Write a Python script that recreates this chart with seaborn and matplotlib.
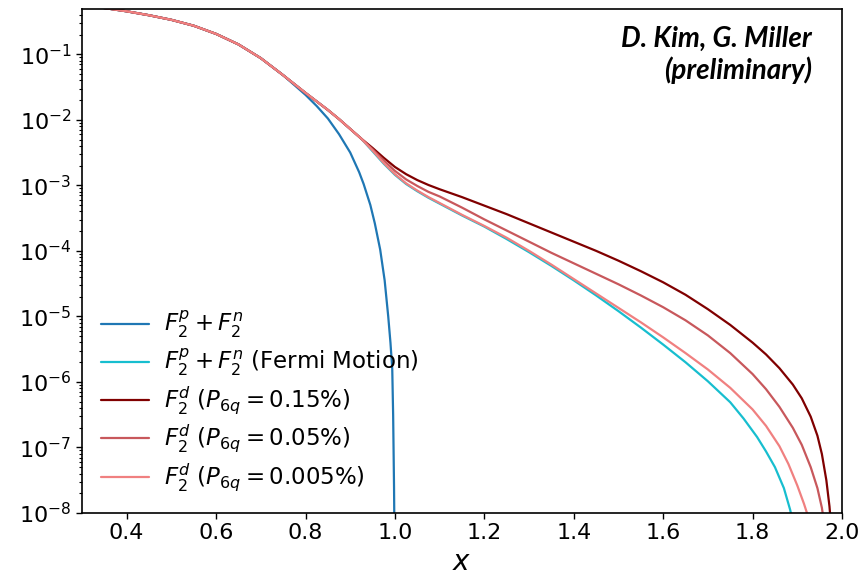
import numpy as np
import pandas as pd
import matplotlib
matplotlib.use("Agg")
import matplotlib.pyplot as plt
import seaborn as sns

# Structure functions, stored as log10(F2) against Bjorken x
x_head = [0.30, 0.35, 0.40, 0.45, 0.50, 0.55, 0.60, 0.65, 0.70, 0.75, 0.80]
log_head = [-0.250, -0.295, -0.345, -0.405, -0.475, -0.565, -0.690, -0.850, -1.060,
            -1.320, -1.590]

# Free nucleon sum F2p + F2n (vanishes at x = 1)
x_free = x_head[:-1] + [0.80, 0.825, 0.85, 0.875, 0.90, 0.92, 0.93, 0.945, 0.955, 0.967,
                        0.977, 0.985, 0.990, 0.994, 0.996, 0.998, 0.999]
log_free = log_head[:-1] + [-1.62, -1.79, -1.98, -2.22, -2.50, -2.80, -2.98, -3.30, -3.58,
                            -3.98, -4.45, -5.00, -5.40, -5.80, -6.50, -7.60, -8.40]

# Region where the smeared and deuteron curves coincide
x_knee = [0.825, 0.85, 0.875, 0.90, 0.925]
log_knee = [-1.72, -1.85, -1.99, -2.14, -2.29]

x_mid = [0.95, 0.975, 1.00, 1.025, 1.05, 1.075, 1.10, 1.15, 1.20, 1.25, 1.30, 1.35,
         1.40, 1.45, 1.50, 1.55, 1.60, 1.65, 1.70, 1.75]

# Fermi-smeared nucleon sum
x_fermi = x_head + x_knee + x_mid + [1.78, 1.81, 1.83, 1.85, 1.87, 1.884, 1.895]
log_fermi = log_head + log_knee + [
    -2.48, -2.67, -2.84, -2.98, -3.09, -3.19, -3.28, -3.46, -3.63, -3.82, -4.02, -4.23,
    -4.45, -4.68, -4.92, -5.17, -5.43, -5.70, -5.99, -6.31,
    -6.56, -6.84, -7.06, -7.30, -7.62, -7.95, -8.30]

# Deuteron F2 with a six-quark admixture
x_d015 = x_head + x_knee + x_mid + [1.80, 1.83, 1.86, 1.89, 1.91, 1.93, 1.945, 1.955,
                                     1.965, 1.972, 1.978]
log_d015 = log_head + log_knee + [
    -2.43, -2.58, -2.72, -2.83, -2.92, -2.995, -3.06, -3.18, -3.31, -3.44, -3.58, -3.72,
    -3.86, -4.00, -4.15, -4.31, -4.48, -4.67, -4.89, -5.13,
    -5.40, -5.58, -5.79, -6.04, -6.25, -6.53, -6.82, -7.10, -7.50, -7.90, -8.40]

x_d005 = x_head + x_knee + x_mid + [1.80, 1.83, 1.86, 1.89, 1.91, 1.93, 1.945, 1.955,
                                    1.962]
log_d005 = log_head + log_knee + [
    -2.45, -2.62, -2.78, -2.91, -3.01, -3.10, -3.17, -3.34, -3.52, -3.69, -3.86, -4.03,
    -4.19, -4.35, -4.51, -4.68, -4.86, -5.06, -5.29, -5.56,
    -5.88, -6.11, -6.38, -6.70, -6.96, -7.30, -7.62, -7.92, -8.25]

x_d0005 = x_head + x_knee + x_mid + [1.80, 1.83, 1.86, 1.88, 1.90, 1.915, 1.925, 1.935]
log_d0005 = log_head + log_knee + [
    -2.47, -2.66, -2.83, -2.97, -3.08, -3.18, -3.27, -3.45, -3.62, -3.80, -4.00, -4.21,
    -4.43, -4.65, -4.87, -5.09, -5.32, -5.56, -5.81, -6.09,
    -6.42, -6.67, -6.98, -7.25, -7.58, -7.86, -8.07, -8.32]

labels = [
    r"$F_2^p + F_2^n$",
    r"$F_2^p + F_2^n$ (Fermi Motion)",
    r"$F_2^d$ $(P_{6q} = 0.15\%)$",
    r"$F_2^d$ $(P_{6q} = 0.05\%)$",
    r"$F_2^d$ $(P_{6q} = 0.005\%)$",
]
colors = ["#1f77b4", "#17becf", "#800000", "#c8585c", "#f08080"]

series = [(x_free, log_free), (x_fermi, log_fermi), (x_d015, log_d015),
          (x_d005, log_d005), (x_d0005, log_d0005)]
frames = []
for lab, (xs, ls) in zip(labels, series):
    frames.append(pd.DataFrame({"x": xs, "F2": 10.0 ** np.asarray(ls), "curve": lab}))
df = pd.concat(frames, ignore_index=True)

sns.set_style("ticks", {"axes.edgecolor": "black", "text.color": "black",
                        "xtick.color": "black", "ytick.color": "black",
                        "axes.labelcolor": "black"})
plt.rcParams["font.family"] = ["DejaVu Sans"]
plt.rcParams["mathtext.fontset"] = "dejavusans"

fig = plt.figure(figsize=(8.62, 5.77), dpi=100)
ax = fig.add_axes([0.0951, 0.1109, 0.8817, 0.8735])

sns.lineplot(data=df, x="x", y="F2", hue="curve", hue_order=labels,
             palette=dict(zip(labels, colors)), estimator=None, sort=False,
             linewidth=1.6, ax=ax)

ax.set_yscale("log")
ax.set_xlim(0.3, 2.0)
ax.set_ylim(1e-8, 0.49)
ax.set_xticks(np.arange(0.4, 2.01, 0.2))
ax.set_xlabel(r"$x$", fontsize=20, labelpad=3)
ax.set_ylabel("")
ax.tick_params(axis="both", which="major", labelsize=16, length=4, width=1)
ax.tick_params(axis="y", which="minor", length=2.5, width=0.8)
for sp in ax.spines.values():
    sp.set_visible(True)
    sp.set_linewidth(1.2)
    sp.set_color("black")

ax.legend(loc="lower left", frameon=False, fontsize=16.5, handlelength=2.1,
          labelspacing=0.28, handletextpad=0.65, borderaxespad=0.44,
          bbox_to_anchor=(0.0, 0.0))

ax.text(0.9605, 0.966, "D. Kim, G. Miller\n(preliminary)", transform=ax.transAxes,
        ha="right", va="top", fontsize=20, fontweight="bold", fontstyle="italic",
        family=["Lato", "DejaVu Sans"], linespacing=1.2, color="black")

fig.savefig("out.png", dpi=100)
